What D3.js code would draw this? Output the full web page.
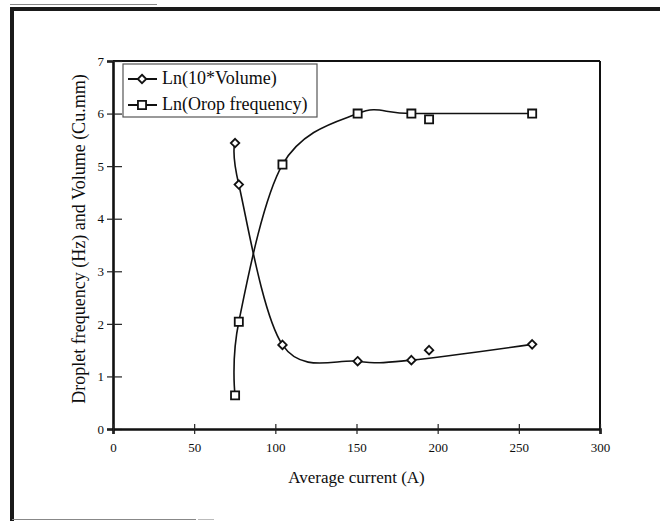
<!DOCTYPE html>
<html>
<head>
<meta charset="utf-8">
<script src="https://cdn.jsdelivr.net/npm/d3@7"></script>
<style>
  html, body { margin: 0; padding: 0; background: #fff; }
  svg { display: block; }
  text { font-family: "Liberation Serif", "Times New Roman", serif; fill: #0d0d0d; }
</style>
</head>
<body>
<svg id="chart" width="660" height="521"></svg>
<script>
// ---- data ----
const currents      = [75.2, 77.5, 104.4, 150.7, 183.8, 258.2];
const volumeLn      = [5.44, 4.65, 1.60, 1.29, 1.31, 1.61];
const frequencyLn   = [0.64, 2.04, 5.03, 6.00, 6.00, 6.00];
const extraCurrent  = [194.7];
const extraVolumeLn = [1.50];
const extraFreqLn   = [5.89];
const xTicks = [0, 50, 100, 150, 200, 250, 300];
const yTicks = [0, 1, 2, 3, 4, 5, 6, 7];
const seriesNames = ["Ln(10*Volume)", "Ln(Orop frequency)"];
const xTitle = "Average current (A)";
const yTitle = "Droplet frequency (Hz) and Volume (Cu.mm)";

(function () {
const svg = d3.select("#chart");

// outer frame (scanned page border)
svg.append("line").attr("x1", 10).attr("x2", 157).attr("y1", 4.5).attr("y2", 4.5)
  .attr("stroke", "#888").attr("stroke-width", 1.2);
svg.append("line").attr("x1", 10).attr("x2", 660).attr("y1", 9).attr("y2", 9)
  .attr("stroke", "#1a1a1a").attr("stroke-width", 4);
svg.append("line").attr("x1", 12).attr("x2", 12).attr("y1", 7).attr("y2", 521)
  .attr("stroke", "#1a1a1a").attr("stroke-width", 4);
svg.append("line").attr("x1", 12).attr("x2", 196).attr("y1", 519.5).attr("y2", 519.5)
  .attr("stroke", "#888").attr("stroke-width", 1.2);
svg.append("line").attr("x1", 198).attr("x2", 214).attr("y1", 519.5).attr("y2", 519.5)
  .attr("stroke", "#bbb").attr("stroke-width", 1);

const pLeft = 113, pRight = 600, pTop = 61, pBottom = 429;
const x = d3.scaleLinear().domain([0, 300]).range([pLeft, pRight]);
const y = d3.scaleLinear().domain([0, 7]).range([pBottom, pTop]);

// plot frame (top & right)
svg.append("line").attr("x1", pLeft).attr("x2", pRight).attr("y1", pTop).attr("y2", pTop)
  .attr("stroke", "#111").attr("stroke-width", 2);
svg.append("line").attr("x1", pRight).attr("x2", pRight).attr("y1", pTop).attr("y2", pBottom)
  .attr("stroke", "#111").attr("stroke-width", 2);

// axes
const yAxis = svg.append("g").attr("transform", `translate(${pLeft},0)`)
  .call(d3.axisLeft(y).tickValues(yTicks).tickFormat(d3.format("d")).tickSize(6).tickPadding(4));
yAxis.select(".domain").attr("stroke", "#111").attr("stroke-width", 2.6);
yAxis.selectAll(".tick line").attr("x1", -6).attr("x2", 9).attr("stroke", "#222").attr("stroke-width", 1.2);
yAxis.selectAll(".tick text").attr("x", -9).style("font-size", "13px").style("font-family", "Liberation Serif");

const xAxis = svg.append("g").attr("transform", `translate(0,${pBottom})`)
  .call(d3.axisBottom(x).tickValues(xTicks).tickFormat(d3.format("d")).tickSize(5).tickPadding(8));
xAxis.select(".domain").attr("stroke", "#111").attr("stroke-width", 2.6);
xAxis.selectAll(".tick line").attr("y1", -5).attr("y2", 5).attr("stroke", "#222").attr("stroke-width", 1.2);
xAxis.selectAll(".tick text").attr("y", 14).style("font-size", "13px").style("font-family", "Liberation Serif");

// titles
svg.append("text").attr("x", (pLeft + pRight) / 2).attr("y", 483).attr("text-anchor", "middle")
  .style("font-size", "17px").text(xTitle);
svg.append("text").attr("transform", `translate(81,239) rotate(-90)`)
  .attr("text-anchor", "middle").attr("dominant-baseline", "middle")
  .style("font-size", "18px").text(yTitle);

// lines
const line = d3.line().curve(d3.curveCardinal.tension(0)).x(d => x(d[0])).y(d => y(d[1]));
const volPts = currents.map((c, i) => [c, volumeLn[i]]);
const frqPts = currents.map((c, i) => [c, frequencyLn[i]]);
[volPts, frqPts].forEach(pts => {
  svg.append("path").attr("d", line(pts)).attr("fill", "none")
    .attr("stroke", "#111").attr("stroke-width", 1.6);
});

const diamond = d3.symbol().type(d3.symbolDiamond2).size(46);
const square = d3.symbol().type(d3.symbolSquare2).size(84);
function drawMarks(pts, sym) {
  svg.append("g").selectAll("path").data(pts).join("path")
    .attr("transform", d => `translate(${x(d[0])},${y(d[1])})`)
    .attr("d", sym).attr("fill", "#fff").attr("stroke", "#111").attr("stroke-width", 1.8);
}
drawMarks(volPts.concat(extraCurrent.map((c, i) => [c, extraVolumeLn[i]])), diamond);
drawMarks(frqPts.concat(extraCurrent.map((c, i) => [c, extraFreqLn[i]])), square);

// legend
const lg = svg.append("g");
lg.append("rect").attr("x", 123).attr("y", 64).attr("width", 194).attr("height", 53)
  .attr("fill", "#fff").attr("stroke", "#555").attr("stroke-width", 1.2);
const rows = [{ name: seriesNames[0], sym: diamond, yy: 79 }, { name: seriesNames[1], sym: square, yy: 105 }];
rows.forEach(r => {
  lg.append("line").attr("x1", 128).attr("x2", 157).attr("y1", r.yy).attr("y2", r.yy)
    .attr("stroke", "#111").attr("stroke-width", 2);
  lg.append("path").attr("transform", `translate(142,${r.yy})`).attr("d", r.sym)
    .attr("fill", "#fff").attr("stroke", "#111").attr("stroke-width", 1.8);
  lg.append("text").attr("x", 162).attr("y", r.yy + 1).attr("dominant-baseline", "middle")
    .style("font-size", "18px").text(r.name);
});
})();
</script>
</body>
</html>
